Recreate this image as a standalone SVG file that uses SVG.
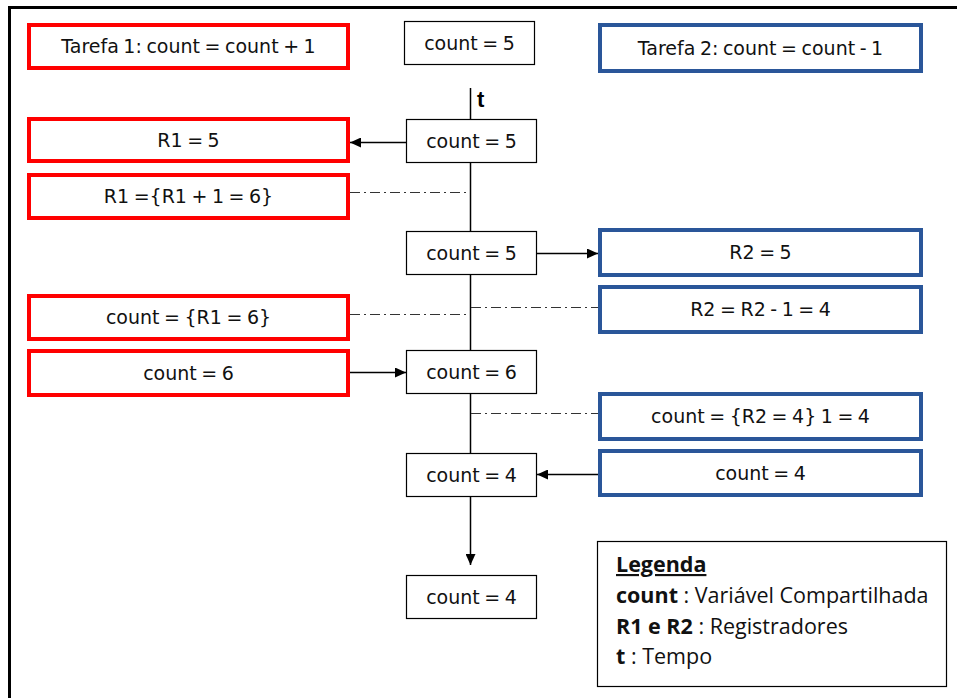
<svg xmlns="http://www.w3.org/2000/svg" width="957" height="698" viewBox="0 0 957 698">
<style>
.red{fill:#fff;stroke:#ff0000;stroke-width:4}
.blue{fill:#fff;stroke:#2a5699;stroke-width:4}
.blk{fill:#fff;stroke:#000;stroke-width:1.2}
.t{font-family:"DejaVu Sans",sans-serif;font-size:19px;word-spacing:-1.5px;fill:#111;text-anchor:middle}
.lg{font-family:"Open Sans",sans-serif;font-size:21.5px;fill:#111}
.b{font-weight:bold}
.arr{stroke:#000;stroke-width:1.5;fill:none;marker-end:url(#ah)}
.dd{stroke:#333;stroke-width:1.2;fill:none;stroke-dasharray:10 4 2 4}
</style>
<defs>
<marker id="ah" markerUnits="userSpaceOnUse" markerWidth="11" markerHeight="10" refX="11" refY="5" orient="auto">
<path d="M0,0 L11,5 L0,10 z" fill="#000"/>
</marker>
</defs>
<rect width="957" height="698" fill="#fff"/>
<path d="M9.5,698 V7.5 H957" fill="none" stroke="#000" stroke-width="3"/>

<g id="connectors">
<line x1="470.5" y1="88" x2="470.5" y2="565" class="arr"/>
<line x1="406" y1="142.5" x2="350" y2="142.5" class="arr"/>
<line x1="537" y1="253.5" x2="598" y2="253.5" class="arr"/>
<line x1="350" y1="372.5" x2="406" y2="372.5" class="arr"/>
<line x1="598" y1="474.5" x2="537" y2="474.5" class="arr"/>
<line x1="350" y1="192.5" x2="470" y2="192.5" class="dd"/>
<line x1="350" y1="314.5" x2="470" y2="314.5" class="dd"/>
<line x1="471" y1="307.5" x2="598" y2="307.5" class="dd"/>
<line x1="471" y1="413.5" x2="598" y2="413.5" class="dd"/>
</g>

<g id="t-label"><text x="477" y="107" font-family="Liberation Sans,sans-serif" font-size="22" font-weight="bold" fill="#000">t</text></g>

<g id="tarefa1"><rect x="29" y="25" width="319" height="43" class="red"/><text x="188.5" y="53" class="t">Tarefa 1: count = count + 1</text></g>
<g id="r1-5"><rect x="29" y="119" width="319" height="42" class="red"/><text x="188.5" y="147" class="t">R1 = 5</text></g>
<g id="r1-6"><rect x="29" y="175" width="319" height="43" class="red"/><text x="188.5" y="203" class="t">R1 ={R1 + 1 = 6}</text></g>
<g id="count-r1"><rect x="29" y="296" width="319" height="43" class="red"/><text x="188.5" y="324" class="t">count = {R1 = 6}</text></g>
<g id="count-6-red"><rect x="29" y="351" width="319" height="44" class="red"/><text x="188.5" y="380" class="t">count = 6</text></g>

<g id="tarefa2"><rect x="600" y="25" width="321" height="46" class="blue"/><text x="760.5" y="55" class="t">Tarefa 2: count = count - 1</text></g>
<g id="r2-5"><rect x="600" y="230" width="321" height="45" class="blue"/><text x="760.5" y="259" class="t">R2 = 5</text></g>
<g id="r2-4"><rect x="600" y="287" width="321" height="45" class="blue"/><text x="760.5" y="316" class="t">R2 = R2 - 1 = 4</text></g>
<g id="count-r2"><rect x="600" y="394" width="321" height="45" class="blue"/><text x="760.5" y="423" class="t">count = {R2 = 4} 1 = 4</text></g>
<g id="count-4-blue"><rect x="600" y="451" width="321" height="44" class="blue"/><text x="760.5" y="480" class="t">count = 4</text></g>

<g id="c0"><rect x="404.5" y="21.5" width="130" height="43" class="blk"/><text x="469.5" y="49.5" class="t">count = 5</text></g>
<g id="c1"><rect x="406.5" y="119.5" width="130" height="43" class="blk"/><text x="471.5" y="147.5" class="t">count = 5</text></g>
<g id="c2"><rect x="406.5" y="231.5" width="130" height="43" class="blk"/><text x="471.5" y="259.5" class="t">count = 5</text></g>
<g id="c3"><rect x="406.5" y="350.5" width="130" height="43" class="blk"/><text x="471.5" y="378.5" class="t">count = 6</text></g>
<g id="c4"><rect x="406.5" y="453.5" width="130" height="43" class="blk"/><text x="471.5" y="481.5" class="t">count = 4</text></g>
<g id="c5"><rect x="406.5" y="575.5" width="130" height="43" class="blk"/><text x="471.5" y="603.5" class="t">count = 4</text></g>

<g id="legenda">
<rect x="597.5" y="541.5" width="349" height="145" class="blk"/>
<text x="616" y="572" class="lg b" text-decoration="underline">Legenda</text>
<text x="616" y="603" class="lg"><tspan class="b">count</tspan> : Variável Compartilhada</text>
<text x="616" y="634" class="lg"><tspan class="b">R1 e R2</tspan> : Registradores</text>
<text x="616" y="664" class="lg"><tspan class="b">t</tspan> : Tempo</text>
</g>
</svg>
